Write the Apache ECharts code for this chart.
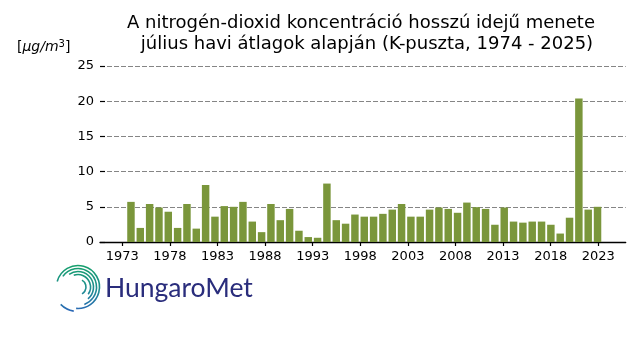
<!DOCTYPE html>
<html>
<head>
<meta charset="utf-8">
<script src="https://cdn.jsdelivr.net/npm/echarts@6/dist/echarts.min.js"></script>
<style>html,body{margin:0;padding:0;background:#fff;}#c{width:640px;height:360px;}</style>
</head>
<body>
<div id="c"></div>
<script>
// Data
const years = [];
for (let y = 1974; y <= 2024; y++) years.push(String(y));
const values = [
  5.7, 2.0, 5.4, 4.9, 4.3, 2.0, 5.4, 1.9, 8.1, 3.6,
  5.1, 5.0, 5.7, 2.9, 1.4, 5.4, 3.1, 4.7, 1.6, 0.7,
  0.6, 8.3, 3.1, 2.6, 3.9, 3.6, 3.6, 4.0, 4.6, 5.4,
  3.6, 3.6, 4.6, 4.9, 4.7, 4.15, 5.6, 4.95, 4.7, 2.45,
  4.9, 2.9, 2.75, 2.9, 2.9, 2.45, 1.2, 3.45, 20.4, 4.6,
  5.0
];
const xTicks = [1973, 1978, 1983, 1988, 1993, 1998, 2003, 2008, 2013, 2018, 2023];
const yTicks = [0, 5, 10, 15, 20, 25];

const titleLine1 = 'A nitrogén-dioxid koncentráció hosszú idejű menete';
const titleLine2 = 'július havi átlagok alapján (K-puszta, 1974 - 2025)';

const FONT = 'DejaVu Sans';
const chart = echarts.init(document.getElementById('c'), null, {renderer: 'canvas'});

const logoGrad = {
  type: 'linear', x: 0, y: 264, x2: 0, y2: 312, global: true,
  colorStops: [{offset: 0, color: '#16a06a'}, {offset: 0.55, color: '#1f8d93'}, {offset: 1, color: '#2b66b8'}]
};
function arc(r, a0, a1, w) {
  return {
    type: 'arc',
    shape: {cx: 78, cy: 287, r: r, startAngle: a0 * Math.PI / 180, endAngle: a1 * Math.PI / 180, clockwise: true},
    style: {stroke: logoGrad, lineWidth: w || 1.6, fill: null}
  };
}

const option = {
  animation: false,
  backgroundColor: '#fff',
  grid: [
    {left: 100, right: 14.3, top: 66, bottom: 118},
    {left: 126.3, right: 37.8, top: 66, bottom: 118}
  ],
  xAxis: [
    {
      type: 'value', gridIndex: 0, min: 1970.66, max: 2025.88,
      axisLine: {show: true, onZero: false, lineStyle: {color: '#000', width: 1.3}},
      axisTick: {show: true, inside: false, length: 4, customValues: xTicks, lineStyle: {color: '#000', width: 1.2}},
      axisLabel: {show: true, customValues: xTicks, margin: 8, color: '#000', fontFamily: FONT, fontSize: 13,
        formatter: v => String(v)},
      splitLine: {show: false}
    },
    {
      type: 'category', gridIndex: 1, data: years,
      axisLine: {show: false}, axisTick: {show: false}, axisLabel: {show: false}, splitLine: {show: false}
    }
  ],
  yAxis: [
    {
      type: 'value', gridIndex: 0, min: 0, max: 25, interval: 5,
      axisLine: {show: false},
      axisTick: {show: true, inside: true, length: 5, lineStyle: {color: '#000', width: 1.2}},
      axisLabel: {show: true, margin: 6, color: '#000', fontFamily: FONT, fontSize: 13},
      splitLine: {show: true, lineStyle: {color: '#858585', width: 1, type: [5, 2]}}
    },
    {
      type: 'value', gridIndex: 1, min: 0, max: 25,
      axisLine: {show: false}, axisTick: {show: false}, axisLabel: {show: false}, splitLine: {show: false}
    }
  ],
  series: [
    {
      type: 'bar', xAxisIndex: 1, yAxisIndex: 1, data: values,
      barWidth: '80%',
      itemStyle: {color: '#7a963b'},
      z: 3
    }
  ],
  graphic: [
    {type: 'text', x: 361, y: 23, style: {text: titleLine1, fontFamily: FONT, fontSize: 18, fill: '#000', align: 'center', verticalAlign: 'middle'}},
    {type: 'text', x: 367, y: 44, style: {text: titleLine2, fontFamily: FONT, fontSize: 18, fill: '#000', align: 'center', verticalAlign: 'middle'}},
    {type: 'text', x: 17, y: 47, style: {
      text: '{n|[}{i|μg/m}{s|3}{n|]}',
      verticalAlign: 'middle',
      rich: {
        n: {fontFamily: FONT, fontSize: 14, fill: '#000'},
        i: {fontFamily: FONT, fontSize: 14, fontStyle: 'italic', fill: '#000'},
        s: {fontFamily: FONT, fontSize: 10, fill: '#000', verticalAlign: 'top', padding: [0, 0, 6, 0]}
      }
    }},
    // HungaroMet logo mark (approximate spiral)
    arc(21.5, 195, 455, 1.6),
    arc(18.5, 215, 430, 1.6),
    arc(15.5, 235, 410, 1.6),
    arc(12.5, 250, 395, 1.6),
    arc(24.5, 100, 135, 1.6),
    arc(8, 300, 420, 1.6),
    {type: 'text', x: 105, y: 288, style: {text: 'HungaroMet', fontFamily: 'Lato', fontSize: 26.5, fill: '#2a2d7c', verticalAlign: 'middle'}}
  ]
};
chart.setOption(option);
</script>
</body>
</html>
